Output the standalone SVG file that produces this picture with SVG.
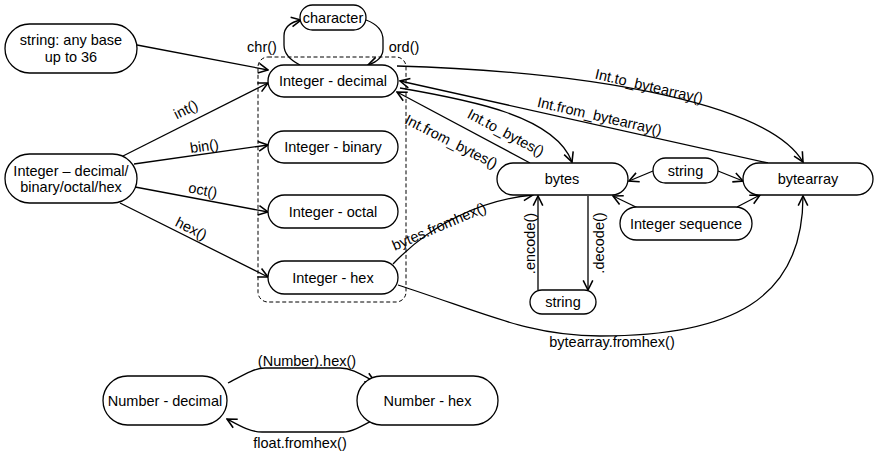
<svg xmlns="http://www.w3.org/2000/svg" width="874" height="456" viewBox="0 0 874 456">
<style>
.n{fill:#fff;stroke:#000;stroke-width:1.3}
.t{font-family:"Liberation Sans",Arial,sans-serif;font-size:14.5px;text-anchor:middle;fill:#000}
.e{fill:none;stroke:#000;stroke-width:1.3;marker-end:url(#a)}
.d{fill:none;stroke:#000;stroke-width:1;stroke-dasharray:4,2.5}
</style>
<defs>
<marker id="a" markerUnits="userSpaceOnUse" markerWidth="12" markerHeight="12" viewBox="0 0 10 10" refX="9" refY="5" orient="auto">
<path d="M1,1 L9,5 L1,9" fill="none" stroke="#000" stroke-width="1.3"/>
</marker>
</defs>
<rect class="d" x="258" y="57" width="148" height="245" rx="10"/>
<g id="connectors">
<path class="e" d="M137,45 L268,70"/>
<path class="e" d="M123,156 L268,83"/>
<path class="e" d="M134,164 L268,145"/>
<path class="e" d="M135,187 L268,212"/>
<path class="e" d="M120,203 L268,277"/>
<path class="e" d="M300,65 C288,59 284,52 284,45 L284,36 C284,27 291,22 301,20"/>
<path class="e" d="M366,20 C377,24 383,31 383,40 L383,49 C383,57 377,62 368,65"/>
<path class="e" d="M397,66 C600,72 770,105 803,162"/>
<path class="e" d="M768,163 L400,81"/>
<path class="e" d="M400,88 C470,100 555,116 572,162"/>
<path class="e" d="M530,163 L397,92"/>
<path class="e" d="M393,264 C430,225 480,200 533,195"/>
<path class="e" d="M398,285 C490,315 530,336 600,336 C730,336 803,300 803,196"/>
<path class="e" d="M538,290 L538,196"/>
<path class="e" d="M588,196 L588,290"/>
<path class="e" d="M653,171 L629,181"/>
<path class="e" d="M718,171 L743,181"/>
<path class="e" d="M638,208 L613,196"/>
<path class="e" d="M737,207 L760,195"/>
<path class="e" d="M228,383 C245,374 255,368 265,368 L340,368 C352,368 362,375 375,382"/>
<path class="e" d="M375,419 C362,426 352,432 343,432 L262,432 C250,432 240,426 227,419"/>
<text class="t" transform="translate(188,114) rotate(-26.4)">int()</text>
<text class="t" transform="translate(205,151) rotate(-8)">bin()</text>
<text class="t" transform="translate(202,195) rotate(10.6)">oct()</text>
<text class="t" transform="translate(189,233) rotate(26.6)">hex()</text>
<text class="t" x="262" y="52">chr()</text>
<text class="t" x="404" y="52">ord()</text>
<text class="t" transform="translate(648,91) rotate(13)">Int.to_bytearray()</text>
<text class="t" transform="translate(598.5,121) rotate(13)">Int.from_bytearray()</text>
<text class="t" transform="translate(503.5,137) rotate(28)">Int.to_bytes()</text>
<text class="t" transform="translate(449,146) rotate(27)">Int.from_bytes()</text>
<text class="t" transform="translate(441,231) rotate(-23)">bytes.fromhex()</text>
<text class="t" x="612" y="347">bytearray.fromhex()</text>
<text class="t" transform="translate(535,243.5) rotate(-90)">.encode()</text>
<text class="t" transform="translate(604,243) rotate(-90)">.decode()</text>
<text class="t" x="307" y="366">(Number).hex()</text>
<text class="t" x="300" y="448">float.fromhex()</text>
</g>
<g id="n-string36"><rect class="n" x="5" y="24" width="132" height="49" rx="24.5"/><text class="t" x="71" y="45">string: any base</text><text class="t" x="71" y="62">up to 36</text></g>
<g id="n-character"><rect class="n" x="300" y="5" width="66" height="25" rx="12.5"/><text class="t" x="333" y="22.5">character</text></g>
<g id="n-intdec"><rect class="n" x="268" y="65" width="130" height="32" rx="16"/><text class="t" x="333" y="86">Integer - decimal</text></g>
<g id="n-intbin"><rect class="n" x="268" y="131" width="130" height="32" rx="16"/><text class="t" x="333" y="152">Integer - binary</text></g>
<g id="n-intoct"><rect class="n" x="268" y="195" width="130" height="33" rx="16.5"/><text class="t" x="333" y="216.5">Integer - octal</text></g>
<g id="n-inthex"><rect class="n" x="268" y="261" width="130" height="33" rx="16.5"/><text class="t" x="333" y="282.5">Integer - hex</text></g>
<g id="n-intany"><rect class="n" x="5" y="154" width="132" height="49" rx="24.5"/><text class="t" x="71" y="175.5">Integer – decimal/</text><text class="t" x="71" y="191.5">binary/octal/hex</text></g>
<g id="n-bytes"><rect class="n" x="497" y="163" width="131" height="32" rx="16"/><text class="t" x="562" y="184">bytes</text></g>
<g id="n-bytearray"><rect class="n" x="743" y="163" width="130" height="32" rx="16"/><text class="t" x="808" y="184">bytearray</text></g>
<g id="n-string-mid"><rect class="n" x="653" y="158" width="65" height="25" rx="12.5"/><text class="t" x="685.5" y="175.5">string</text></g>
<g id="n-intseq"><rect class="n" x="620" y="207" width="132" height="33" rx="16.5"/><text class="t" x="686" y="228.5">Integer sequence</text></g>
<g id="n-string-bot"><rect class="n" x="530" y="290" width="66" height="24" rx="12"/><text class="t" x="563" y="307">string</text></g>
<g id="n-numdec"><rect class="n" x="103" y="376" width="124" height="49" rx="24.5"/><text class="t" x="165" y="405.5">Number - decimal</text></g>
<g id="n-numhex"><rect class="n" x="357" y="376" width="141" height="49" rx="24.5"/><text class="t" x="427.5" y="405.5">Number - hex</text></g>
</svg>
